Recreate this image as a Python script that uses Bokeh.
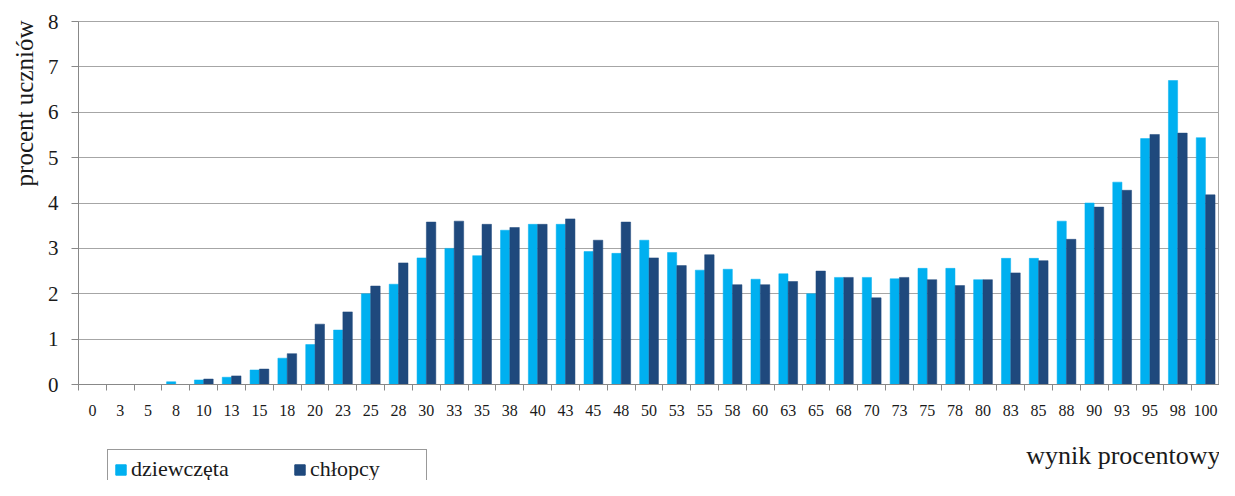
from bokeh.plotting import figure
from bokeh.layouts import column
from bokeh.models import (FixedTicker, Range1d, Legend, LegendItem, Label, ColumnDataSource,
                          Title)
from bokeh.transform import dodge
from bokeh.embed import file_html
from bokeh.resources import INLINE

labels = ["0", "3", "5", "8", "10", "13", "15", "18", "20", "23", "25", "28", "30", "33",
          "35", "38", "40", "43", "45", "48", "50", "53", "55", "58", "60", "63", "65", "68",
          "70", "73", "75", "78", "80", "83", "85", "88", "90", "93", "95", "98", "100"]
girls = [0, 0, 0, 0.06, 0.10, 0.16, 0.32, 0.58, 0.88, 1.20, 2.00, 2.21, 2.79, 3.00,
         2.84, 3.40, 3.53, 3.53, 2.93, 2.89, 3.18, 2.91, 2.52, 2.54, 2.32, 2.44, 2.00, 2.36,
         2.36, 2.33, 2.56, 2.56, 2.31, 2.78, 2.78, 3.60, 4.00, 4.46, 5.42, 6.70, 5.44]
boys = [0, 0, 0, 0, 0.12, 0.19, 0.34, 0.68, 1.33, 1.60, 2.17, 2.68, 3.58, 3.60,
        3.53, 3.46, 3.53, 3.65, 3.18, 3.58, 2.79, 2.62, 2.86, 2.20, 2.20, 2.27, 2.50, 2.36,
        1.91, 2.36, 2.31, 2.18, 2.31, 2.46, 2.73, 3.20, 3.91, 4.28, 5.51, 5.54, 4.18]
y_ticks = [0, 1, 2, 3, 4, 5, 6, 7, 8]
series_names = ["dziewczęta", "chłopcy"]

FONT = "Liberation Serif"
C_GIRLS = "#00B0F0"
C_BOYS = "#1F497D"
GRID = "#A6A6A6"
TXT = "#1a1a1a"
W = 1219
H_MAIN = 424
H_FOOT = 56

idx = list(range(len(labels)))
src = ColumnDataSource(dict(idx=idx, girls=girls, boys=boys))

p = figure(width=W, height=H_MAIN, output_backend="svg", toolbar_location=None,
           x_range=Range1d(-0.5, len(labels) - 0.5), y_range=Range1d(0, 8),
           min_border_left=78, min_border_right=0, min_border_top=21, min_border_bottom=40)
p.outline_line_color = GRID

p.vbar(x=dodge("idx", -0.17, range=p.x_range), top="girls", width=0.33, bottom=0,
       source=src, fill_color=C_GIRLS, line_color=C_GIRLS, line_width=0.5)
p.vbar(x=dodge("idx", 0.17, range=p.x_range), top="boys", width=0.34, bottom=0,
       source=src, fill_color=C_BOYS, line_color=C_BOYS, line_width=0.5)

p.xgrid.visible = False
p.ygrid.grid_line_color = GRID
p.ygrid.ticker = FixedTicker(ticks=y_ticks)

xa = p.xaxis[0]
xa.ticker = FixedTicker(ticks=idx, minor_ticks=[i - 0.5 for i in range(len(labels) + 1)])
xa.major_label_overrides = {i: l for i, l in zip(idx, labels)}
xa.major_tick_line_color = None
xa.major_tick_out = 0
xa.major_tick_in = 0
xa.minor_tick_line_color = "#888888"
xa.minor_tick_out = 6
xa.minor_tick_in = 0
xa.axis_line_color = "#888888"
xa.major_label_text_font = FONT
xa.major_label_text_font_size = "16px"
xa.major_label_text_color = TXT
xa.major_label_standoff = 14

ya = p.yaxis[0]
ya.ticker = FixedTicker(ticks=y_ticks, minor_ticks=[])
ya.major_tick_line_color = "#888888"
ya.major_tick_out = 7
ya.major_tick_in = 0
ya.minor_tick_line_color = None
ya.axis_line_color = "#888888"
ya.major_label_text_font = FONT
ya.major_label_text_font_size = "21px"
ya.major_label_text_color = TXT
ya.major_label_standoff = 13

# y-axis title, aligned to the top of the axis
p.add_layout(Title(text="procent uczniów", align="right", text_font=FONT,
                   text_font_size="25px", text_font_style="normal", text_color=TXT,
                   standoff=13, offset=-1), "left")

# footer strip: x-axis title and legend
f = figure(width=W, height=H_FOOT, output_backend="svg", toolbar_location=None,
           x_range=Range1d(0, W), y_range=Range1d(0, H_FOOT),
           x_axis_location=None, y_axis_location=None,
           min_border_left=0, min_border_right=0, min_border_top=0, min_border_bottom=0)
f.outline_line_color = None
f.xgrid.visible = False
f.ygrid.visible = False

d1 = f.vbar(x="idx", top="girls", width=1, source=src, fill_color=C_GIRLS,
            line_color=C_GIRLS, visible=False)
d2 = f.vbar(x="idx", top="boys", width=1, source=src, fill_color=C_BOYS,
            line_color=C_BOYS, visible=False)

f.add_layout(Label(x=1220, y=H_FOOT - 31, text="wynik procentowy", text_align="right",
                   text_baseline="middle", text_font=FONT, text_font_size="26px",
                   text_color=TXT))

legend = Legend(items=[LegendItem(label=series_names[0], renderers=[d1]),
                       LegendItem(label=series_names[1], renderers=[d2])],
                orientation="horizontal", location=(29, -9), margin=0,
                padding=6, spacing=52, label_width=110, label_standoff=4,
                glyph_width=13, glyph_height=13, inactive_fill_alpha=0,
                label_text_font=FONT, label_text_font_size="22px", label_text_color=TXT,
                border_line_color="#333333", border_line_width=1, background_fill_alpha=1)
f.add_layout(legend, "center")

open("out.html", "w").write(file_html(column(p, f, spacing=0), INLINE))
